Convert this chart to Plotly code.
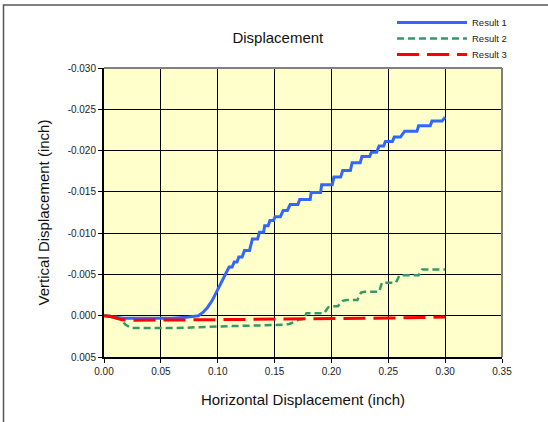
import plotly.graph_objects as go

# ---------------- data ----------------
x_result1 = [0.000, 0.005, 0.010, 0.017, 0.040, 0.060, 0.072, 0.078, 0.083, 0.087, 0.091,
             0.095, 0.098, 0.101, 0.104, 0.107, 0.1100, 0.1127, 0.1145, 0.1170, 0.1185,
             0.1215, 0.1235, 0.1280, 0.1305, 0.1351, 0.1367, 0.1404, 0.1413, 0.1444,
             0.1459, 0.1490, 0.1505, 0.1551, 0.1576, 0.1613, 0.1637, 0.1705, 0.1721,
             0.1813, 0.1822, 0.1905, 0.1914, 0.2007, 0.2022, 0.2081, 0.2099, 0.2167,
             0.2182, 0.2253, 0.2268, 0.2336, 0.2352, 0.2398, 0.2419, 0.2459, 0.2475,
             0.2536, 0.2552, 0.2607, 0.2644, 0.2752, 0.2767, 0.2869, 0.2884, 0.2973,
             0.3000]
y_result1 = [0.0000, 0.0001, 0.0002, 0.0003, 0.0003, 0.0003, 0.0002, 0.0001, 0.0000,
             -0.0004, -0.0010, -0.0018, -0.0026, -0.0034, -0.0042, -0.0050, -0.0059,
             -0.0059, -0.0065, -0.0065, -0.0071, -0.0071, -0.0079, -0.0079, -0.0093,
             -0.0093, -0.0101, -0.0101, -0.0109, -0.0109, -0.01154, -0.01154, -0.0120,
             -0.0120, -0.01275, -0.01275, -0.01348, -0.01348, -0.01408, -0.01408,
             -0.01493, -0.01493, -0.01586, -0.01586, -0.01679, -0.01679, -0.01759,
             -0.01759, -0.01852, -0.01852, -0.01929, -0.01929, -0.01981, -0.01981,
             -0.02054, -0.02054, -0.0211, -0.0211, -0.02163, -0.02163, -0.02235,
             -0.02235, -0.0230, -0.0230, -0.02357, -0.02357, -0.02405]

x_result2 = [0.000, 0.008, 0.014, 0.019, 0.024, 0.040, 0.063, 0.100, 0.149, 0.158,
             0.163, 0.168, 0.172, 0.176, 0.178, 0.1936, 0.1970, 0.1998, 0.2056, 0.2100,
             0.2136, 0.2228, 0.2260, 0.2290, 0.2420, 0.2444, 0.2567, 0.2598, 0.2767,
             0.2798, 0.3000]
y_result2 = [0.0000, 0.0000, 0.0003, 0.0011, 0.0015, 0.0015, 0.0015, 0.0013, 0.00117,
             0.0011, 0.0010, 0.0007, 0.00045, 0.0004, -0.0003, -0.0003, -0.0010,
             -0.00115, -0.00115, -0.0018, -0.0019, -0.0019, -0.0028, -0.0029, -0.0029,
             -0.0040, -0.0040, -0.0049, -0.0049, -0.0056, -0.0056]

x_result3 = [0.000, 0.006, 0.011, 0.016, 0.025, 0.040, 0.100, 0.155, 0.200, 0.250, 0.300]
y_result3 = [0.0000, 0.0001, 0.0003, 0.0005, 0.00055, 0.00055, 0.00048, 0.0004,
             0.00036, 0.00028, 0.00016]

series_names = ["Result 1", "Result 2", "Result 3"]

x_tick_vals = [0.00, 0.05, 0.10, 0.15, 0.20, 0.25, 0.30, 0.35]
x_tick_labels = ["0.00", "0.05", "0.10", "0.15", "0.20", "0.25", "0.30", "0.35"]
y_tick_vals = [-0.030, -0.025, -0.020, -0.015, -0.010, -0.005, 0.000, 0.005]
y_tick_labels = ["-0.030", "-0.025", "-0.020", "-0.015", "-0.010", "-0.005", "0.000", "0.005"]

FONT = "Arial, Liberation Sans, sans-serif"

fig = go.Figure()
fig.add_trace(go.Scatter(x=x_result1, y=y_result1, mode="lines", name=series_names[0],
                         line=dict(color="#3366FF", width=3), legend="legend"))
fig.add_trace(go.Scatter(x=x_result2, y=y_result2, mode="lines", name=series_names[1],
                         line=dict(color="#339966", width=2.5, dash="7px,4px"),
                         legend="legend2"))
fig.add_trace(go.Scatter(x=x_result3, y=y_result3, mode="lines", name=series_names[2],
                         line=dict(color="#FF0000", width=3, dash="22px,8px"),
                         legend="legend3"))


def legend_box(top_px):
    return dict(xref="container", yref="container", x=392 / 548, y=1 - top_px / 422,
                xanchor="left", yanchor="top", bgcolor="rgba(0,0,0,0)",
                font=dict(size=9.5, color="#222222"), itemwidth=70)


fig.update_layout(
    width=548, height=422,
    margin=dict(l=104, r=46, t=68, b=65, autoexpand=False),
    paper_bgcolor="white",
    plot_bgcolor="#FFFFCC",
    font=dict(family=FONT, color="#222222"),
    title=dict(text="Displacement", x=0.507, xref="container", xanchor="center",
               y=1 - 38 / 422, yref="container", yanchor="middle",
               font=dict(size=15, color="#111111")),
    showlegend=True,
    legend=legend_box(8),
    legend2=legend_box(24),
    legend3=legend_box(40),
    xaxis=dict(range=[0, 0.35], tickvals=x_tick_vals, ticktext=x_tick_labels,
               showgrid=True, gridcolor="#000000", gridwidth=1,
               showline=True, linecolor="#000000", linewidth=2,
               ticks="outside", ticklen=4, tickcolor="#000000", tickwidth=1,
               tickfont=dict(size=10, color="#222222"),
               zeroline=False, automargin=False,
               title=dict(text="Horizontal Displacement (inch)", standoff=18,
                          font=dict(size=15, color="#111111"))),
    yaxis=dict(range=[0.005, -0.030], tickvals=y_tick_vals, ticktext=y_tick_labels,
               showgrid=True, gridcolor="#000000", gridwidth=1,
               showline=True, linecolor="#000000", linewidth=2,
               ticks="outside", ticklen=4, tickcolor="#000000", tickwidth=1,
               tickfont=dict(size=10, color="#222222"),
               zeroline=False, automargin=False,
               title=dict(text="Vertical Displacement (inch)", standoff=14,
                          font=dict(size=15, color="#111111"))),
)

# grey top/right border of the plotting area
fig.add_shape(type="line", xref="paper", yref="paper", x0=0, x1=1, y0=1, y1=1,
              line=dict(color="#808080", width=2))
fig.add_shape(type="line", xref="paper", yref="paper", x0=1, x1=1, y0=0, y1=1,
              line=dict(color="#808080", width=2))
# outer chart frame (runs off the right and bottom edges of the image)
fig.add_shape(type="rect", xref="paper", yref="paper",
              x0=(3.5 - 104) / 398, x1=(560 - 104) / 398,
              y0=(357 - 430) / 289, y1=(357 - 5) / 289,
              line=dict(color="#555555", width=1.5), fillcolor="rgba(0,0,0,0)",
              layer="below")

fig.write_html("out.html", config={"displayModeBar": False},
               post_script="document.body.style.margin='0px';")
